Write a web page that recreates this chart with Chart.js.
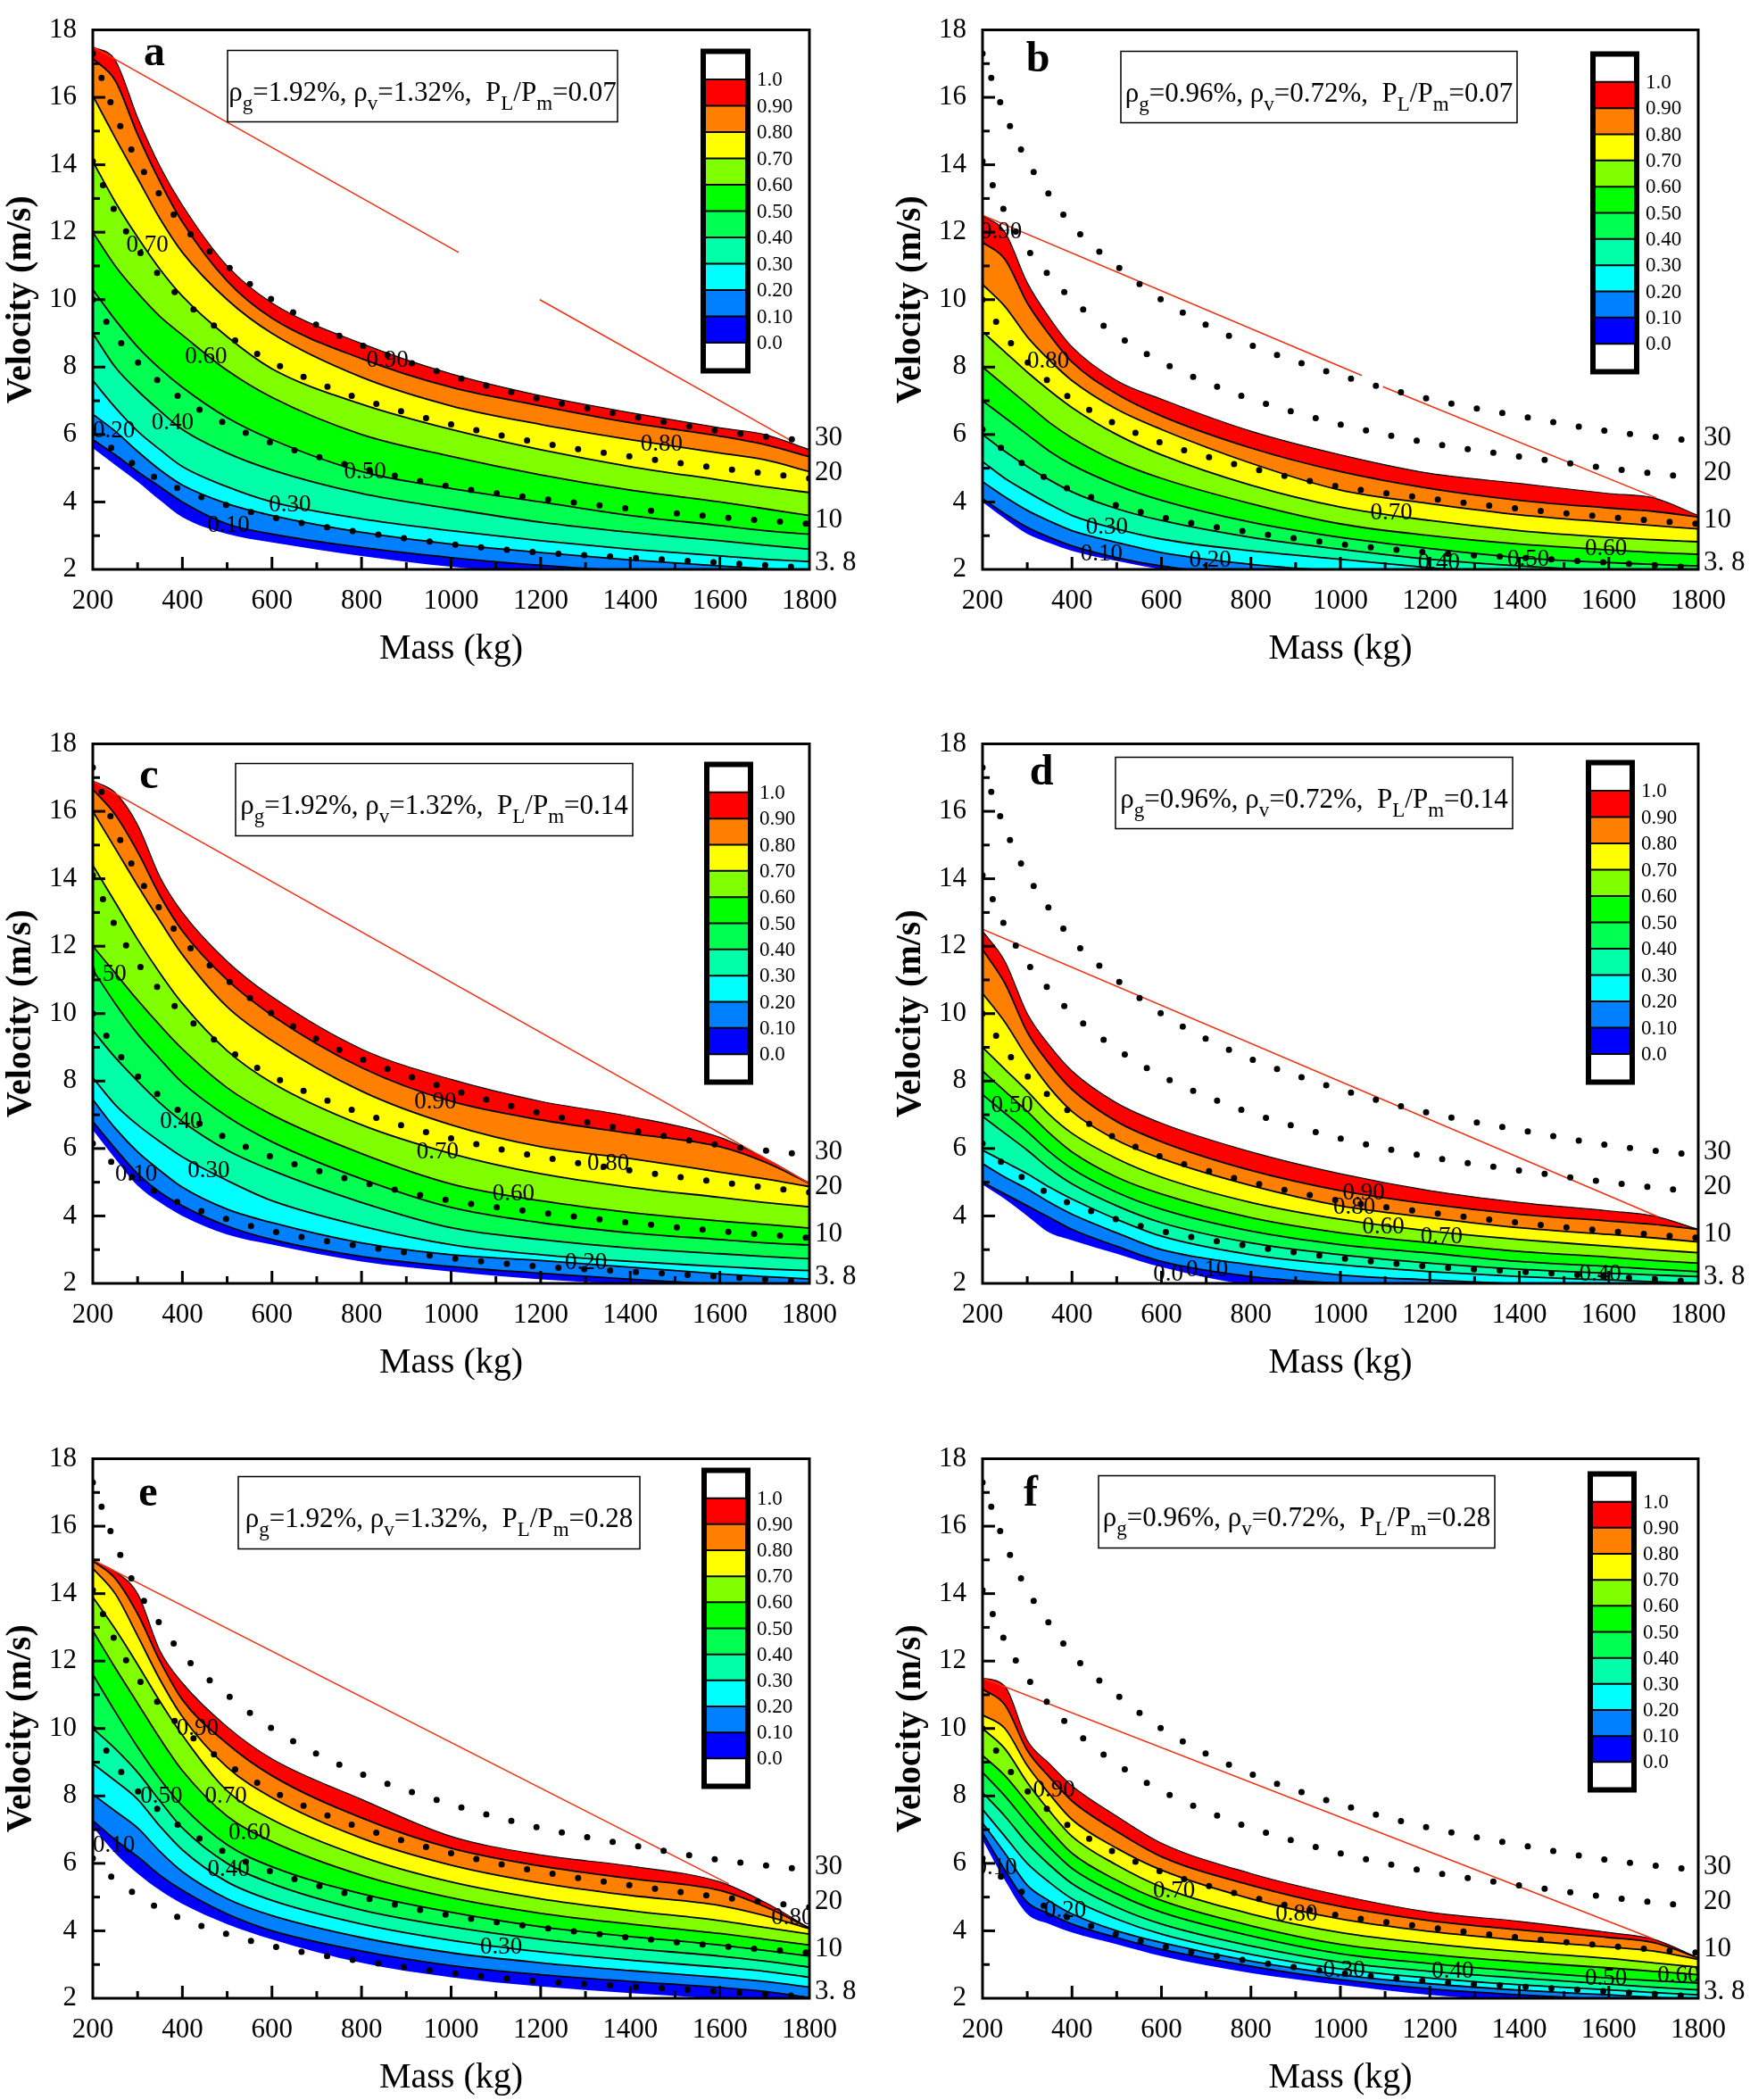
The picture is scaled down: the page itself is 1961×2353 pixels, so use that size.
<!DOCTYPE html>
<html>
<head>
<meta charset="utf-8">
<script src="https://cdn.jsdelivr.net/npm/chart.js@4.4.1/dist/chart.umd.min.js"></script>
<style>
  html, body { margin:0; padding:0; background:#fff; }
  body { width:1961px; height:2353px; position:relative; overflow:hidden; }
  canvas { position:absolute; }
</style>
</head>
<body>
<canvas id="pa"></canvas>
<canvas id="pb"></canvas>
<canvas id="pc"></canvas>
<canvas id="pd"></canvas>
<canvas id="pe"></canvas>
<canvas id="pf"></canvas>
<script>
const SERIF = 'Liberation Serif';
Chart.defaults.font.family = SERIF;
Chart.defaults.color = '#000';

// mass grid used for every contour boundary (kg)
const massGrid = [200, 250, 300, 350, 400, 500, 600, 800, 1000, 1200, 1400, 1600, 1700, 1800];

// boundaries of the damage levels 0.0, 0.1 ... 1.0 (velocity, m/s), one row per level
const bandsA = [
  [5.6, 5.1, 4.6, 4.05, 3.55, 3.05, 2.8, 2.4, 2.08, 1.85, 1.7, 1.6, 1.55, 1.5],
  [5.85, 5.4, 4.9, 4.45, 4.0, 3.35, 3.05, 2.65, 2.35, 2.12, 1.95, 1.82, 1.76, 1.7],
  [6.6, 6.1, 5.5, 4.95, 4.5, 3.95, 3.6, 3.1, 2.75, 2.5, 2.28, 2.1, 2.02, 1.95],
  [7.6, 6.8, 6.1, 5.55, 5.05, 4.45, 4.0, 3.5, 3.15, 2.85, 2.6, 2.4, 2.3, 2.23],
  [9.0, 8.0, 7.3, 6.7, 6.15, 5.45, 4.95, 4.25, 3.8, 3.4, 3.1, 2.85, 2.72, 2.6],
  [10.3, 9.4, 8.6, 7.95, 7.4, 6.5, 5.85, 4.9, 4.4, 4.0, 3.6, 3.3, 3.15, 3.04],
  [12.0, 11.0, 10.2, 9.5, 8.95, 7.9, 7.1, 6.0, 5.35, 4.8, 4.35, 4.0, 3.8, 3.6],
  [14.1, 12.9, 11.85, 10.9, 10.1, 8.9, 7.95, 6.9, 6.15, 5.55, 5.05, 4.65, 4.45, 4.28],
  [16.05, 14.8, 13.6, 12.4, 11.4, 10.0, 9.0, 7.7, 6.85, 6.3, 5.85, 5.45, 5.25, 4.9],
  [17.15, 16.5, 14.9, 13.5, 12.3, 10.55, 9.45, 8.25, 7.4, 6.85, 6.35, 5.95, 5.7, 5.34],
  [17.5, 17.1, 15.4, 13.95, 12.8, 11.0, 9.9, 8.7, 7.8, 7.15, 6.65, 6.2, 6.0, 5.55]
];
const bandsB = [
  [4.0, 3.5, 3.05, 2.78, 2.55, 2.25, 2.0, 1.6, 1.45, 1.35, 1.25, 1.15, 1.1, 1.0],
  [4.1, 3.65, 3.25, 2.95, 2.7, 2.35, 2.1, 1.8, 1.6, 1.5, 1.4, 1.3, 1.25, 1.2],
  [4.6, 4.15, 3.75, 3.43, 3.15, 2.8, 2.5, 2.15, 1.95, 1.8, 1.65, 1.52, 1.46, 1.4],
  [5.2, 4.7, 4.3, 3.93, 3.6, 3.2, 2.9, 2.55, 2.3, 2.05, 1.85, 1.72, 1.66, 1.6],
  [6.0, 5.5, 5.05, 4.65, 4.3, 3.8, 3.45, 2.95, 2.6, 2.3, 2.1, 1.95, 1.9, 1.85],
  [7.0, 6.5, 6.0, 5.5, 5.1, 4.5, 4.05, 3.4, 2.95, 2.62, 2.35, 2.2, 2.15, 2.1],
  [8.0, 7.45, 6.9, 6.35, 5.9, 5.2, 4.7, 3.95, 3.35, 3.0, 2.75, 2.58, 2.5, 2.45],
  [9.05, 8.45, 7.85, 7.3, 6.8, 6.0, 5.4, 4.5, 3.85, 3.45, 3.15, 2.95, 2.88, 2.82],
  [10.45, 9.8, 8.9, 8.2, 7.6, 6.75, 6.15, 5.15, 4.35, 3.95, 3.62, 3.4, 3.3, 3.2],
  [11.7, 11.2, 9.9, 8.95, 8.15, 7.2, 6.55, 5.6, 4.9, 4.4, 4.05, 3.82, 3.72, 3.55],
  [12.5, 12.0, 10.5, 9.45, 8.6, 7.6, 7.05, 6.1, 5.4, 4.85, 4.55, 4.25, 4.12, 3.6]
];
const bandsC = [
  [6.55, 5.7, 4.9, 4.4, 4.0, 3.45, 3.15, 2.65, 2.35, 2.12, 1.98, 1.85, 1.8, 1.75],
  [6.8, 6.0, 5.25, 4.7, 4.3, 3.7, 3.3, 2.8, 2.5, 2.3, 2.12, 1.97, 1.9, 1.85],
  [7.45, 6.6, 5.9, 5.35, 4.85, 4.2, 3.8, 3.2, 2.85, 2.68, 2.48, 2.28, 2.2, 2.13],
  [8.1, 7.3, 6.7, 6.2, 5.75, 5.05, 4.45, 3.7, 3.15, 2.85, 2.65, 2.5, 2.43, 2.38],
  [9.5, 8.7, 8.0, 7.35, 6.8, 5.95, 5.35, 4.4, 3.65, 3.3, 3.05, 2.88, 2.8, 2.73],
  [11.3, 10.3, 9.4, 8.65, 7.95, 6.95, 6.2, 5.1, 4.25, 3.8, 3.5, 3.3, 3.2, 3.14],
  [12.0, 11.2, 10.4, 9.65, 8.95, 7.8, 7.0, 5.85, 4.95, 4.45, 4.1, 3.85, 3.75, 3.64],
  [14.4, 13.3, 12.2, 11.2, 10.3, 8.9, 7.95, 6.7, 5.85, 5.25, 4.85, 4.55, 4.4, 4.27],
  [16.0, 14.9, 13.8, 12.75, 11.75, 10.2, 9.2, 7.7, 6.7, 6.05, 5.7, 5.3, 5.1, 4.87],
  [16.65, 15.9, 14.8, 13.5, 12.45, 11.0, 9.95, 8.4, 7.4, 6.85, 6.45, 6.05, 5.6, 4.97],
  [16.9, 16.55, 15.6, 14.05, 13.0, 11.55, 10.5, 8.95, 8.05, 7.4, 6.95, 6.33, 5.72, 4.97]
];
const bandsD = [
  [4.93, 4.5, 4.0, 3.5, 3.28, 2.88, 2.48, 1.95, 1.8, 1.7, 1.62, 1.58, 1.56, 1.55],
  [5.0, 4.65, 4.3, 3.95, 3.6, 3.1, 2.65, 2.2, 2.0, 1.88, 1.8, 1.75, 1.72, 1.7],
  [5.55, 5.15, 4.8, 4.4, 4.05, 3.5, 3.0, 2.55, 2.25, 2.1, 1.98, 1.9, 1.87, 1.85],
  [5.95, 5.6, 5.25, 4.85, 4.5, 3.9, 3.4, 2.85, 2.55, 2.35, 2.2, 2.1, 2.05, 2.0],
  [6.95, 6.45, 5.95, 5.4, 4.95, 4.3, 3.8, 3.2, 2.85, 2.6, 2.42, 2.3, 2.25, 2.2],
  [7.6, 7.05, 6.5, 5.9, 5.4, 4.7, 4.2, 3.55, 3.15, 2.9, 2.65, 2.5, 2.42, 2.35],
  [8.3, 7.7, 7.1, 6.45, 5.9, 5.15, 4.65, 3.95, 3.5, 3.2, 2.95, 2.78, 2.68, 2.6],
  [9.0, 8.35, 7.7, 7.0, 6.45, 5.7, 5.15, 4.4, 3.9, 3.55, 3.3, 3.1, 3.0, 2.91],
  [10.6, 9.75, 8.7, 7.8, 7.1, 6.25, 5.7, 4.9, 4.3, 3.95, 3.65, 3.45, 3.35, 3.23],
  [11.9, 10.9, 9.45, 8.5, 7.75, 6.8, 6.2, 5.35, 4.75, 4.35, 4.05, 3.85, 3.75, 3.6],
  [12.45, 11.55, 10.0, 9.05, 8.3, 7.35, 6.75, 5.9, 5.25, 4.75, 4.4, 4.15, 4.0, 3.6]
];
const bandsE = [
  [7.08, 6.3, 5.7, 5.2, 4.8, 4.2, 3.75, 3.05, 2.62, 2.35, 2.15, 1.98, 1.88, 1.75],
  [7.27, 6.7, 6.2, 5.65, 5.2, 4.5, 4.0, 3.4, 2.97, 2.7, 2.5, 2.32, 2.2, 2.02],
  [8.05, 7.55, 7.05, 6.35, 5.75, 4.95, 4.45, 3.8, 3.35, 3.05, 2.82, 2.62, 2.5, 2.33],
  [8.96, 8.45, 7.9, 7.1, 6.4, 5.45, 4.9, 4.2, 3.72, 3.38, 3.13, 2.92, 2.8, 2.62],
  [10.0, 9.4, 8.7, 7.85, 7.05, 6.0, 5.4, 4.62, 4.12, 3.75, 3.48, 3.25, 3.1, 2.92],
  [11.6, 10.5, 9.45, 8.5, 7.7, 6.55, 5.9, 5.1, 4.55, 4.12, 3.83, 3.58, 3.42, 3.25],
  [12.9, 11.8, 10.75, 9.7, 8.75, 7.4, 6.65, 5.65, 4.98, 4.52, 4.2, 3.92, 3.75, 3.58],
  [13.9, 12.95, 11.9, 10.8, 9.8, 8.15, 7.3, 6.2, 5.45, 4.95, 4.6, 4.3, 4.1, 3.9],
  [14.75, 14.0, 12.75, 11.45, 10.35, 8.85, 7.95, 6.75, 5.95, 5.42, 5.05, 4.75, 4.45, 4.06],
  [14.97, 14.45, 13.4, 12.0, 10.85, 9.55, 8.6, 7.35, 6.45, 5.92, 5.55, 5.2, 4.72, 4.08],
  [14.97, 14.65, 14.0, 12.3, 11.35, 10.05, 9.1, 7.9, 6.8, 6.25, 5.92, 5.45, 4.85, 4.08]
];
const bandsF = [
  [6.7, 5.5, 4.5, 4.2, 3.95, 3.6, 3.25, 2.75, 2.4, 2.1, 1.92, 1.78, 1.7, 1.62],
  [6.9, 5.8, 4.85, 4.5, 4.2, 3.8, 3.45, 2.95, 2.55, 2.28, 2.1, 1.96, 1.9, 1.82],
  [7.2, 6.3, 5.35, 4.88, 4.5, 4.0, 3.65, 3.1, 2.7, 2.43, 2.24, 2.1, 2.03, 1.96],
  [7.6, 6.8, 6.0, 5.43, 4.95, 4.35, 3.9, 3.3, 2.87, 2.6, 2.4, 2.25, 2.17, 2.1],
  [8.1, 7.4, 6.6, 5.95, 5.4, 4.7, 4.2, 3.55, 3.07, 2.8, 2.6, 2.42, 2.33, 2.25],
  [8.7, 8.0, 7.2, 6.47, 5.85, 5.1, 4.55, 3.85, 3.32, 3.03, 2.8, 2.6, 2.52, 2.45],
  [9.2, 8.6, 7.8, 7.0, 6.3, 5.5, 4.9, 4.15, 3.6, 3.3, 3.08, 2.9, 2.8, 2.7],
  [10.0, 9.4, 8.4, 7.55, 6.8, 5.95, 5.3, 4.5, 3.95, 3.62, 3.38, 3.18, 3.05, 2.92],
  [10.4, 10.0, 8.9, 8.05, 7.3, 6.45, 5.8, 4.95, 4.35, 3.98, 3.72, 3.52, 3.4, 3.15],
  [11.17, 10.7, 9.35, 8.55, 7.85, 6.95, 6.2, 5.35, 4.72, 4.3, 4.03, 3.8, 3.65, 3.2],
  [11.5, 11.25, 9.65, 8.95, 8.3, 7.4, 6.6, 5.7, 5.05, 4.55, 4.28, 3.95, 3.75, 3.2]
];

// dotted impact-energy curves (30, 20, 10, 3.8 kJ)
const energyMass = [200, 250, 300, 350, 400, 500, 600, 700, 800, 1000, 1200, 1400, 1600, 1800];
const energy30 = [17.3, 15.5, 14.1, 13.1, 12.2, 11.0, 10.0, 9.25, 8.65, 7.75, 7.05, 6.55, 6.1, 5.8];
const energy20 = [14.1, 12.6, 11.5, 10.7, 10.0, 8.95, 8.15, 7.55, 7.05, 6.3, 5.75, 5.35, 5.0, 4.7];
const energy10 = [10.0, 8.95, 8.15, 7.55, 7.05, 6.3, 5.75, 5.35, 5.0, 4.45, 4.1, 3.8, 3.55, 3.35];
const energy38 = [6.15, 5.5, 5.05, 4.65, 4.35, 3.9, 3.55, 3.3, 3.1, 2.75, 2.5, 2.35, 2.2, 2.05];
const energyNames = ['30', '20', '10', '3. 8'];
const energyNameV = [5.9, 4.85, 3.45, 2.2];

// thin red guide lines (null = break in the line)
const redAx = [200, 1017, 1100, 1198, 1756], redAy = [17.5, 11.4, null, 10.0, 5.84];
const redBx = [200, 1048, 1070, 1095, 1706], redBy = [12.5, 7.75, null, 7.42, 4.12];
const redCx = [200, 1800], redCy = [16.9, 4.97];
const redDx = [200, 1710], redDy = [12.5, 3.98];
const redEx = [200, 1620], redEy = [15.0, 5.39];
const redFx = [200, 1700], redFy = [11.5, 3.76];

// contour labels: mass, velocity, text
const labA = [[322,11.6,'0.70'],[453,8.3,'0.60'],[858,8.2,'0.90'],[1470,5.7,'0.80'],[808,4.9,'0.50'],[378,6.35,'0.40'],[640,3.9,'0.30'],[247,6.1,'0.20'],[503,3.3,'0.10']];
const labB = [[241,12.0,'0.90'],[347,8.16,'0.80'],[1114,3.68,'0.70'],[478,3.25,'0.30'],[466,2.44,'0.10'],[709,2.26,'0.20'],[1220,2.2,'0.40'],[1420,2.3,'0.50'],[1594,2.6,'0.60']];
const labC = [[228,11.17,'0.50'],[397,6.8,'0.40'],[459,5.35,'0.30'],[297,5.22,'0.10'],[965,7.38,'0.90'],[970,5.9,'0.70'],[1139,4.66,'0.60'],[1351,5.54,'0.80'],[1301,2.6,'0.20']];
const labD = [[1052,4.68,'0.90'],[1031,4.24,'0.80'],[1096,3.67,'0.60'],[1226,3.39,'0.70'],[1581,2.28,'0.40'],[615,2.28,'0.0'],[702,2.4,'0.10'],[266,7.27,'0.50']];
const labE = [[434,10.0,'0.90'],[353,7.99,'0.50'],[497,7.99,'0.70'],[550,6.9,'0.60'],[503,5.82,'0.40'],[247,6.53,'0.10'],[1112,3.5,'0.30'],[1762,4.39,'0.80']];
const labF = [[360,8.18,'0.90'],[628,5.19,'0.70'],[902,4.48,'0.80'],[1008,2.82,'0.30'],[1251,2.79,'0.40'],[1594,2.59,'0.50'],[1756,2.66,'0.60'],[230,5.87,'0.10'],[385,4.6,'0.20']];

// reinforcement ratios and load ratio printed in each box
const paramsA = ['1.92', '1.32', '0.07'];
const paramsB = ['0.96', '0.72', '0.07'];
const paramsC = ['1.92', '1.32', '0.14'];
const paramsD = ['0.96', '0.72', '0.14'];
const paramsE = ['1.92', '1.32', '0.28'];
const paramsF = ['0.96', '0.72', '0.28'];

const levelTicks = ['1.0','0.90','0.80','0.70','0.60','0.50','0.40','0.30','0.20','0.10','0.0'];
// fill colours from the 0.0-0.1 band up to the 0.9-1.0 band
const bandColors = ['#0000ff','#0080ff','#00ffff','#00ffa8','#00ff50','#00ff00','#80ff00','#ffff00','#ff8000','#ff0000'];

// where things sit, relative to each plot area
const panels = [
  {id:'pa', letter:'a', left:0,   top:0,    width:987, padRight:80, bands:bandsA, rx:redAx, ry:redAy, labs:labA, params:paramsA, box:[151,23,437,80], cbar:[681,21,56,364], let:[69,27]},
  {id:'pb', letter:'b', left:997, top:0,    width:964, padRight:58, bands:bandsB, rx:redBx, ry:redBy, labs:labB, params:paramsB, box:[155,24,444,80], cbar:[681,24,55,362], let:[62,34]},
  {id:'pc', letter:'c', left:0,   top:800,  width:987, padRight:80, bands:bandsC, rx:redCx, ry:redCy, labs:labC, params:paramsC, box:[160,22,445,81], cbar:[685,20,55,362], let:[63,37]},
  {id:'pd', letter:'d', left:997, top:800,  width:964, padRight:58, bands:bandsD, rx:redDx, ry:redDy, labs:labD, params:paramsD, box:[149,15,445,80], cbar:[676,18,55,364], let:[66,33]},
  {id:'pe', letter:'e', left:0,   top:1601, width:987, padRight:80, bands:bandsE, rx:redEx, ry:redEy, labs:labE, params:paramsE, box:[163,20,450,81], cbar:[682,10,55,360], let:[62,40]},
  {id:'pf', letter:'f', left:997, top:1601, width:964, padRight:58, bands:bandsF, rx:redFx, ry:redFy, labs:labF, params:paramsF, box:[130,19,444,81], cbar:[678,14,55,360], let:[54,40]}
];

function seg(ctx, x1, y1, x2, y2) {
  ctx.beginPath(); ctx.moveTo(x1, y1); ctx.lineTo(x2, y2); ctx.stroke();
}

// ρg=..%, ρv=..%,  PL/Pm=.. with subscripts, centred at cx
function drawParams(ctx, cx, base, vals) {
  const parts = [['ρ',0],['g',1],['=' + vals[0] + '%, ρ',0],['v',1],['=' + vals[1] + '%,  P',0],['L',1],['/P',0],['m',1],['=' + vals[2],0]];
  const big = '31px ' + SERIF, small = '23px ' + SERIF;
  let total = 0;
  parts.forEach(p => { ctx.font = p[1] ? small : big; total += ctx.measureText(p[0]).width; });
  let x = cx - total / 2;
  ctx.textAlign = 'left'; ctx.textBaseline = 'alphabetic'; ctx.fillStyle = '#000';
  parts.forEach(p => {
    ctx.font = p[1] ? small : big;
    ctx.fillText(p[0], x, p[1] ? base + 10 : base);
    x += ctx.measureText(p[0]).width;
  });
}

const decor = {
  id: 'decor',
  afterDatasetsDraw(chart, args, opts) {
    const {ctx, chartArea: ca, scales: {x, y}} = chart;
    const p = opts.panel;
    ctx.save();
    ctx.beginPath(); ctx.rect(ca.left, ca.top, ca.right - ca.left, ca.bottom - ca.top); ctx.clip();
    ctx.font = '27px ' + SERIF; ctx.fillStyle = '#000';
    ctx.textAlign = 'center'; ctx.textBaseline = 'middle';
    p.labs.forEach(l => ctx.fillText(l[2], x.getPixelForValue(l[0]), y.getPixelForValue(l[1])));
    ctx.restore();
  },
  afterDraw(chart, args, opts) {
    const {ctx, chartArea: ca, scales: {x, y}} = chart;
    const p = opts.panel;
    ctx.save();
    ctx.strokeStyle = '#000';
    // frame
    ctx.lineWidth = 3;
    ctx.strokeRect(ca.left, ca.top, ca.right - ca.left, ca.bottom - ca.top);
    // inward ticks
    for (let m = 300; m < 1800; m += 100) {
      const px = x.getPixelForValue(m);
      seg(ctx, px, ca.bottom, px, ca.bottom - (m % 200 === 0 ? 14 : 8));
    }
    for (let v = 3; v < 18; v++) {
      const py = y.getPixelForValue(v);
      seg(ctx, ca.left, py, ca.left + (v % 2 === 0 ? 14 : 8), py);
    }
    // energy names at the right
    ctx.fillStyle = '#000';
    ctx.font = '31px ' + SERIF; ctx.textAlign = 'left'; ctx.textBaseline = 'middle';
    energyNames.forEach((t, i) => ctx.fillText(t, ca.right + 6, y.getPixelForValue(energyNameV[i])));
    // panel letter
    ctx.font = 'bold 48px ' + SERIF; ctx.textAlign = 'center';
    ctx.fillText(p.letter, ca.left + p.let[0], ca.top + p.let[1]);
    // parameter box
    const [bx, by, bw, bh] = p.box;
    ctx.fillStyle = '#fff';
    ctx.fillRect(ca.left + bx, ca.top + by, bw, bh);
    ctx.lineWidth = 1.5;
    ctx.strokeRect(ca.left + bx, ca.top + by, bw, bh);
    drawParams(ctx, ca.left + bx + bw / 2, ca.top + by + 56, p.params);
    // colour bar
    const [cx, cy, cw, ch] = p.cbar;
    const X0 = ca.left + cx, Y0 = ca.top + cy;
    const inner = ch - 10, cell = inner / 12;
    ctx.fillStyle = '#fff';
    ctx.fillRect(X0, Y0, cw, ch);
    for (let i = 0; i < 10; i++) {
      ctx.fillStyle = bandColors[9 - i];
      ctx.fillRect(X0 + 5, Y0 + 5 + (i + 1) * cell, cw - 10, cell);
    }
    ctx.lineWidth = 2;
    for (let i = 1; i < 12; i++) {
      const yy = Y0 + 5 + i * cell;
      seg(ctx, X0 + 5, yy, X0 + cw - 5, yy);
    }
    ctx.lineWidth = 6;
    ctx.strokeRect(X0 + 3, Y0 + 3, cw - 6, ch - 6);
    ctx.fillStyle = '#000';
    ctx.font = '23px ' + SERIF; ctx.textAlign = 'left'; ctx.textBaseline = 'middle';
    levelTicks.forEach((t, i) => ctx.fillText(t, X0 + cw + 7, Y0 + 5 + (i + 1) * cell + 1));
    ctx.restore();
  }
};

function toPoints(xs, ys) {
  return xs.map((m, i) => ({x: m, y: ys[i]}));
}

function buildPanel(p) {
  const canvas = document.getElementById(p.id);
  canvas.width = p.width; canvas.height = 751;
  canvas.style.left = p.left + 'px'; canvas.style.top = p.top + 'px';

  const datasets = [];
  [energy30, energy20, energy10, energy38].forEach(vals => datasets.push({
    data: toPoints(energyMass, vals),
    borderColor: '#000', borderWidth: 7, borderDash: [0, 29], borderCapStyle: 'round',
    pointRadius: 0, fill: false, cubicInterpolationMode: 'monotone'
  }));
  datasets.push({
    data: toPoints(p.rx, p.ry),
    borderColor: '#f2300f', borderWidth: 1.5, pointRadius: 0, fill: false, spanGaps: false, tension: 0
  });
  p.bands.forEach((vals, k) => datasets.push({
    data: toPoints(massGrid, vals),
    borderColor: k === 0 ? 'rgba(0,0,0,0)' : '#000',
    borderWidth: k === 0 ? 0 : (k === 10 ? 1.2 : 1.8),
    backgroundColor: k === 0 ? 'rgba(0,0,0,0)' : bandColors[k - 1],
    fill: k === 0 ? false : '-1',
    pointRadius: 0, cubicInterpolationMode: 'monotone'
  }));

  new Chart(canvas, {
    type: 'line',
    data: { datasets },
    options: {
      responsive: false, animation: false, devicePixelRatio: 1,
      parsing: false, normalized: true,
      layout: { padding: { top: 17, right: p.padRight, bottom: 0, left: 0 } },
      plugins: { legend: { display: false }, tooltip: { enabled: false }, decor: { panel: p } },
      scales: {
        x: {
          type: 'linear', min: 200, max: 1800,
          afterFit: s => { s.height = 113; },
          ticks: { stepSize: 200, color: '#000', padding: 20, maxRotation: 0, autoSkip: false,
                   callback: v => String(v),
                   font: { family: SERIF, size: 31, lineHeight: 1 } },
          grid: { display: false, drawTicks: false }, border: { display: false },
          title: { display: true, text: 'Mass (kg)', color: '#000', padding: 0,
                   font: { family: SERIF, size: 40 } }
        },
        y: {
          type: 'linear', min: 2, max: 18,
          afterFit: s => { s.width = 104; },
          ticks: { stepSize: 2, color: '#000', padding: 18, callback: v => String(v),
                   font: { family: SERIF, size: 31, lineHeight: 1 } },
          grid: { display: false, drawTicks: false }, border: { display: false },
          title: { display: true, text: 'Velocity (m/s)', color: '#000', padding: 0,
                   font: { family: SERIF, size: 40, weight: 'bold' } }
        }
      }
    },
    plugins: [decor]
  });
}

panels.forEach(buildPanel);
</script>
</body>
</html>
